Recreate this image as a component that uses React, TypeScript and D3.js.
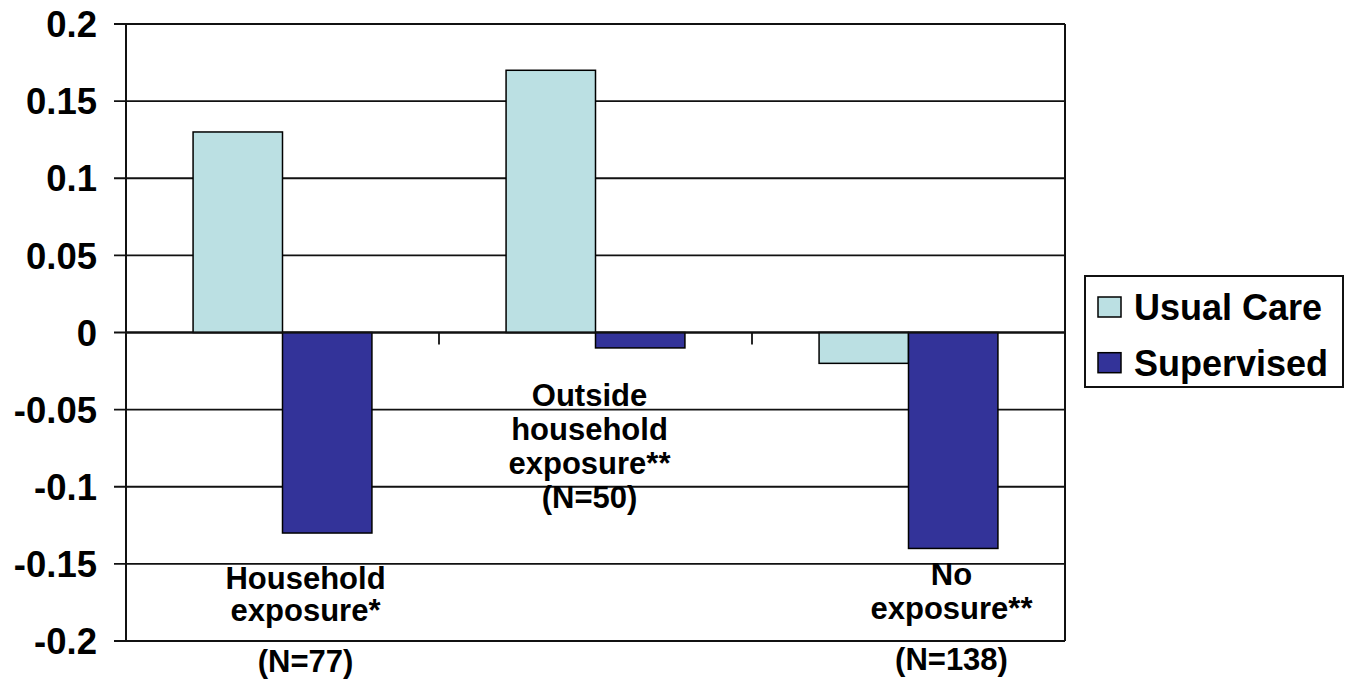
import React from "react";
import * as d3 from "d3";

// Change in outcome by exposure group, per arm
const categories = ["Household", "Outside", "None"];
const usualCare = [0.13, 0.17, -0.02];
const supervised = [-0.13, -0.01, -0.14];
const seriesNames = ["Usual Care", "Supervised"];
const yTicks = [0.2, 0.15, 0.1, 0.05, 0, -0.05, -0.1, -0.15, -0.2];
const yTickLabels = ["0.2", "0.15", "0.1", "0.05", "0", "-0.05", "-0.1", "-0.15", "-0.2"];
const categoryLabels = [
  ["Household", "exposure*", "(N=77)"],
  ["Outside", "household", "exposure**", "(N=50)"],
  ["No", "exposure**", "(N=138)"],
];

// Layout
const W = 1351;
const H = 685;
const plot = { left: 126, right: 1065, top: 24, bottom: 641 };
const colors = ["#BBE0E3", "#333399"];
const font = "'Liberation Sans', Arial, Helvetica, sans-serif";
// label placement: horizontal shift from category centre, and line baselines
const labelShift = [23, -6, 43];
const labelBaselines = [
  [589, 621, 672],
  [406, 440, 474, 508],
  [585, 619, 670],
];

export default function App() {
  const y = d3.scaleLinear().domain([-0.2, 0.2]).range([plot.bottom, plot.top]);
  const x = d3.scaleBand<string>().domain(categories).range([plot.left, plot.right]).padding(0);
  const cw = x.bandwidth();
  const gapRatio = 1.5;
  const barW = cw / (2 + gapRatio);
  const inner = d3
    .scaleBand<string>()
    .domain(seriesNames)
    .range([(barW * gapRatio) / 2, cw - (barW * gapRatio) / 2])
    .padding(0);
  const values = [usualCare, supervised];
  const y0 = y(0);

  return (
    <svg
      width={W}
      height={H}
      style={{ position: "fixed", left: 0, top: 0, background: "#fff" }}
      fontFamily={font}
    >
      <rect x={0} y={0} width={W} height={H} fill="#fff" />
      {/* gridlines with outer ticks */}
      {yTicks.map((t, i) => (
        <line
          key={"g" + i}
          x1={plot.left - 12}
          x2={plot.right}
          y1={y(t)}
          y2={y(t)}
          stroke="#111"
          strokeWidth={1.8}
        />
      ))}
      {yTickLabels.map((s, i) => (
        <text
          key={"t" + i}
          x={97}
          y={y(yTicks[i])}
          dy="0.36em"
          textAnchor="end"
          fontSize={36.5}
          fontWeight="bold"
          fill="#000"
        >
          {s}
        </text>
      ))}
      {/* bars */}
      {categories.map((c, ci) =>
        seriesNames.map((s, si) => {
          const v = values[si][ci];
          const bx = (x(c) as number) + (inner(s) as number);
          const top = Math.min(y(v), y0);
          const h = Math.abs(y(v) - y0);
          return (
            <rect
              key={c + s}
              x={bx}
              y={top}
              width={inner.bandwidth()}
              height={h}
              fill={colors[si]}
              stroke="#000"
              strokeWidth={1.5}
            />
          );
        })
      )}
      {/* category axis on zero line */}
      <line x1={plot.left} x2={plot.right} y1={y0} y2={y0} stroke="#111" strokeWidth={1.8} />
      {categories.slice(1).map((c) => (
        <line
          key={"ct" + c}
          x1={x(c)}
          x2={x(c)}
          y1={y0}
          y2={y0 + 12}
          stroke="#111"
          strokeWidth={1.8}
        />
      ))}
      {/* plot frame */}
      <line x1={plot.left} x2={plot.left} y1={plot.top} y2={plot.bottom} stroke="#111" strokeWidth={2} />
      <line x1={plot.right} x2={plot.right} y1={plot.top} y2={plot.bottom} stroke="#111" strokeWidth={2} />
      {/* category labels */}
      {categoryLabels.map((lines, ci) =>
        lines.map((ln, li) => (
          <text
            key={"cl" + ci + li}
            x={(x(categories[ci]) as number) + cw / 2 + labelShift[ci]}
            y={labelBaselines[ci][li]}
            textAnchor="middle"
            fontSize={31}
            fontWeight="bold"
            fill="#000"
          >
            {ln}
          </text>
        ))
      )}
      {/* legend */}
      <rect x={1085} y={276} width={258} height={111} fill="#fff" stroke="#111" strokeWidth={2} />
      {seriesNames.map((s, si) => (
        <g key={"lg" + s} transform={`translate(1098, ${297 + si * 55.7})`}>
          <rect x={0} y={0} width={23} height={20} fill={colors[si]} stroke="#000" strokeWidth={1.5} />
          <text x={36} y={23} fontSize={36} fontWeight="bold" fill="#000">
            {s}
          </text>
        </g>
      ))}
    </svg>
  );
}
